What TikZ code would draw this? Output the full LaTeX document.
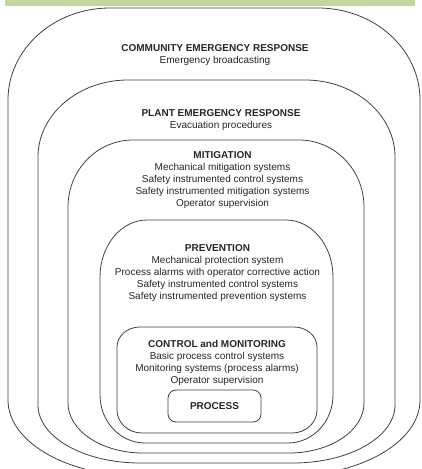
\documentclass[tikz,border=0pt]{standalone}
\usepackage{fontspec}
\setmainfont{Liberation Sans}
\definecolor{bargreen}{RGB}{195,214,155}
% one protection layer: left, top, right, bottom, top corner rx, ry, bottom corner rx, ry
\newcommand{\ring}[8]{%
  \draw[ring] (#1,#2+#6) arc[start angle=180,end angle=270,x radius=#5,y radius=#6]
    -- (#3-#5,#2) arc[start angle=270,end angle=360,x radius=#5,y radius=#6]
    -- (#3,#4-#8) arc[start angle=0,end angle=90,x radius=#7,y radius=#8]
    -- (#1+#7,#4) arc[start angle=90,end angle=180,x radius=#7,y radius=#8]
    -- cycle;}

\begin{document}
\begin{tikzpicture}[x=1pt,y=-1pt,
  ring/.style={draw=black!75,line width=0.8pt},
  layer text/.style={anchor=north,align=center,inner sep=0pt,text=black!85,
    font=\fontsize{10}{12}\selectfont},
  process box/.style={draw=black!75,line width=0.8pt,rounded corners=8pt,
    minimum width=93pt,minimum height=32pt,text=black!85,
    font=\fontsize{10}{12}\selectfont\bfseries}]

\useasboundingbox (0,0) rectangle (422,469);
\clip (0,0) rectangle (422,469);

% Drawing the banner
\fill[bargreen] (5,0) rectangle (415,6);

% Drawing the layers, outside in
\ring{8}{8}{420}{476}{102}{92}{132}{76}   % community
\ring{38}{80}{395}{463}{90}{77}{102}{58}  % plant
\ring{68}{140}{364}{453}{65}{67}{75}{50}  % mitigation
\ring{100}{220}{333}{443}{47}{57}{45}{48} % prevention
\ring{117}{327}{317}{433}{23}{20}{25}{23} % control

% Layer texts
\node[layer text] (community) at (215,43.9) {\textbf{COMMUNITY EMERGENCY RESPONSE}\\Emergency broadcasting};
\node[layer text] (plant) at (221,109.4) {\textbf{PLANT EMERGENCY RESPONSE}\\Evacuation procedures};
\node[layer text] (mitigation) at (222.5,151.4) {\textbf{MITIGATION}\\Mechanical mitigation systems\\Safety instrumented control systems\\Safety instrumented mitigation systems\\Operator supervision};
\node[layer text] (prevention) at (217.5,244.4) {\textbf{PREVENTION}\\Mechanical protection system\\Process alarms with operator corrective action\\Safety instrumented control systems\\Safety instrumented prevention systems};
\node[layer text] (control) at (217,340.4) {\textbf{CONTROL and MONITORING}\\Basic process control systems\\Monitoring systems (process alarms)\\Operator supervision};

% The process itself
\node[process box] (process) at (214.5,406) {PROCESS};

\end{tikzpicture}
\end{document}
